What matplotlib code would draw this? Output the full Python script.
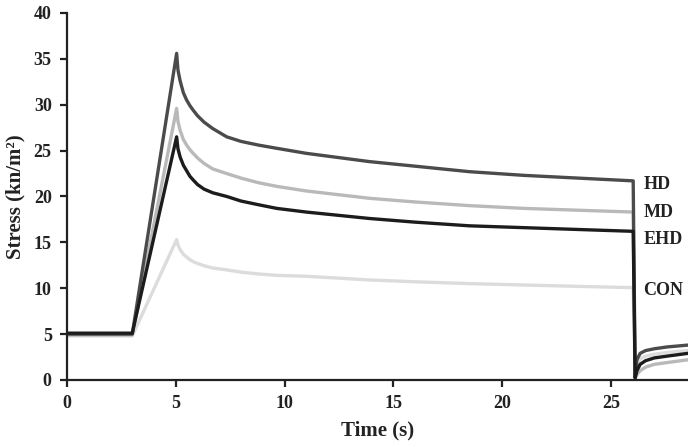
import matplotlib
matplotlib.use('Agg')
import matplotlib.pyplot as plt

plt.rcParams['font.family'] = ['Liberation Serif', 'DejaVu Serif']
plt.rcParams['font.weight'] = 'bold'

# points (time in s, stress in kn/m2)
t_pts = [0, 3.0, 5.04, 5.1, 5.2, 5.35, 5.5, 5.65, 5.8, 6.0, 6.3, 6.7, 7.34, 8.0, 8.8, 9.64,
         11.0, 13.9, 16.0, 18.5, 21.0, 23.5, 26.03,
         26.12, 26.2, 26.35, 26.6, 27.0, 27.6, 28.55]

s_hd = [5.0, 5.0, 35.6, 33.8, 32.6, 31.3, 30.5, 29.9, 29.4, 28.8, 28.1, 27.4, 26.5, 26.0, 25.6, 25.25,
        24.7, 23.8, 23.3, 22.7, 22.3, 22.0, 21.7,
        0.3, 2.2, 2.9, 3.2, 3.4, 3.6, 3.8]
s_md = [4.9, 4.9, 29.6, 28.2, 27.2, 26.2, 25.6, 25.1, 24.7, 24.2, 23.6, 23.0, 22.5, 22.0, 21.5, 21.1,
        20.6, 19.8, 19.4, 19.0, 18.7, 18.5, 18.3,
        0.2, 0.6, 1.0, 1.4, 1.7, 1.9, 2.2]
s_ehd = [5.1, 5.1, 26.5, 25.2, 24.3, 23.4, 22.8, 22.2, 21.8, 21.3, 20.8, 20.4, 20.0, 19.5, 19.1, 18.7,
         18.3, 17.6, 17.2, 16.8, 16.6, 16.4, 16.2,
         0.2, 1.0, 1.7, 2.1, 2.4, 2.6, 2.9]
s_con = [4.8, 4.8, 15.3, 14.7, 14.2, 13.7, 13.4, 13.1, 12.9, 12.7, 12.45, 12.2, 12.0, 11.75, 11.55, 11.4,
         11.3, 10.9, 10.7, 10.5, 10.35, 10.2, 10.06,
         0.3, 1.6, 2.3, 2.6, 2.8, 3.0, 3.2]

labels = ['HD', 'MD', 'EHD', 'CON']
label_y = [21.3, 18.2, 15.3, 9.8]

fig = plt.figure(figsize=(6.88, 4.47), dpi=100)
ax = fig.add_axes([0.0974, 0.15, 0.9026, 0.821])

ax.plot(t_pts, s_con, color='#dcdcdc', lw=2.4)
ax.plot(t_pts, s_md, color='#b9b9b9', lw=2.4)
ax.plot(t_pts, s_hd, color='#4b4b4b', lw=2.4)
ax.plot(t_pts, s_ehd, color='#1c1c1c', lw=2.4)

for lab, yy in zip(labels, label_y):
    ax.text(26.5, yy, lab, fontsize=13, fontweight='bold', color='#222222', va='center', ha='left')

ax.set_xlim(0, 28.55)
ax.set_ylim(0, 40)
ax.set_xticks([0, 5, 10, 15, 20, 25])
ax.set_yticks(range(0, 41, 5))
ax.set_xlabel('Time (s)', fontsize=15, fontweight='bold', color='#222222', labelpad=6)
ax.set_ylabel('Stress (kn/m²)', fontsize=15, fontweight='bold', color='#222222', labelpad=6)

for side in ['top', 'right']:
    ax.spines[side].set_visible(False)
for side in ['left', 'bottom']:
    ax.spines[side].set_linewidth(1.6)
    ax.spines[side].set_color('#222222')
ax.tick_params(axis='both', direction='out', length=5, width=1.6, color='#222222',
               labelsize=13, labelcolor='#222222', pad=6)

plt.savefig('out.png', dpi=100)
